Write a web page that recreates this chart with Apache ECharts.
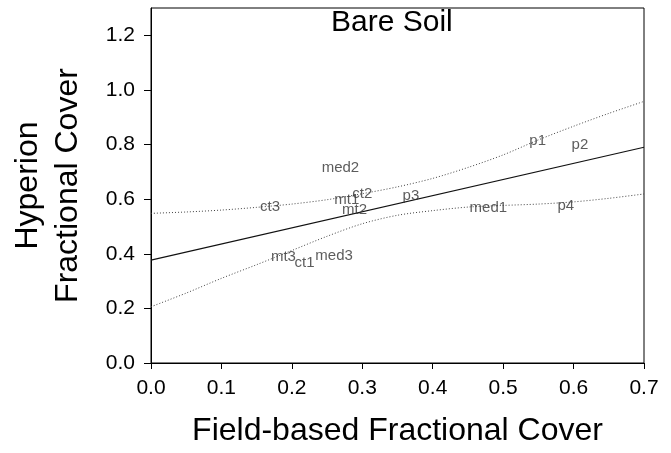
<!DOCTYPE html>
<html>
<head>
<meta charset="utf-8">
<script src="https://cdn.jsdelivr.net/npm/echarts@6/dist/echarts.min.js"></script>
<style>
  html, body { margin: 0; padding: 0; background: #fff; }
  #chart { width: 671px; height: 453px; }
</style>
</head>
<body>
<div id="chart"></div>
<script>
// sample points (field-based vs Hyperion cover), labelled by plot name
const pointNames = ["ct3", "med2", "mt1", "ct2", "mt2", "p3", "p1", "p2", "med1", "p4", "mt3", "ct1", "med3"];
const pointX = [0.169, 0.269, 0.278, 0.300, 0.289, 0.369, 0.549, 0.609, 0.479, 0.589, 0.188, 0.218, 0.260];
const pointY = [0.572, 0.713, 0.596, 0.621, 0.560, 0.612, 0.815, 0.797, 0.567, 0.576, 0.389, 0.368, 0.393];

// regression line end points
const fitX = [0, 0.7];
const fitY = [0.377, 0.790];

// confidence band
const bandX = [0, 0.05, 0.1, 0.15, 0.2, 0.25, 0.3, 0.35, 0.4, 0.45, 0.5, 0.55, 0.6, 0.65, 0.7];
const bandUpper = [0.548, 0.553, 0.560, 0.570, 0.582, 0.598, 0.620, 0.645, 0.676, 0.716, 0.762, 0.817, 0.867, 0.914, 0.958];
const bandLower = [0.206, 0.256, 0.310, 0.360, 0.412, 0.464, 0.510, 0.541, 0.558, 0.571, 0.577, 0.582, 0.590, 0.603, 0.619];

const font = "'Liberation Sans', Arial, sans-serif";

var myChart = echarts.init(document.getElementById("chart"));

var option = {
    backgroundColor: "#fff",
    animation: false,
    title: {
        text: "Bare Soil",
        left: 331,
        top: 8,
        padding: 0,
        textStyle: {
            fontFamily: font,
            fontSize: 30,
            fontWeight: "normal",
            color: "#000",
        },
    },
    grid: {
        left: 147,
        right: 27,
        top: 8,
        bottom: 90,
        show: true,
        borderColor: "#000",
        borderWidth: 1,
    },
    xAxis: {
        type: "value",
        min: 0,
        max: 0.7,
        interval: 0.1,
        name: "Field-based Fractional Cover",
        nameLocation: "middle",
        nameGap: 52,
        nameTextStyle: { fontFamily: font, fontSize: 32, color: "#000" },
        splitLine: { show: false },
        axisLine: { lineStyle: { color: "#000", width: 1 } },
        axisTick: { show: true, length: 6, lineStyle: { color: "#000" } },
        axisLabel: {
            margin: 15,
            fontFamily: font,
            fontSize: 21,
            color: "#000",
            formatter: (v) => v.toFixed(1),
        },
    },
    yAxis: {
        type: "value",
        min: 0,
        max: 1.3,
        interval: 0.2,
        name: "Hyperion\nFractional Cover",
        nameLocation: "middle",
        nameGap: 63,
        nameRotate: 90,
        nameTextStyle: { fontFamily: font, fontSize: 32, lineHeight: 40, color: "#000" },
        splitLine: { show: false },
        axisLine: { lineStyle: { color: "#000", width: 1 } },
        axisTick: { show: true, length: 7, lineStyle: { color: "#000" } },
        axisLabel: {
            margin: 16,
            fontFamily: font,
            fontSize: 21,
            color: "#000",
            showMaxLabel: false,
            formatter: (v) => v.toFixed(1),
        },
    },
    series: [
        {
            name: "upper",
            type: "line",
            data: bandX.map((x, i) => [x, bandUpper[i]]),
            smooth: 0.3,
            symbol: "none",
            lineStyle: { color: "#444", width: 1, type: [1, 2] },
            z: 2,
        },
        {
            name: "lower",
            type: "line",
            data: bandX.map((x, i) => [x, bandLower[i]]),
            smooth: 0.3,
            symbol: "none",
            lineStyle: { color: "#444", width: 1, type: [1, 2] },
            z: 2,
        },
        {
            name: "fit",
            type: "line",
            data: fitX.map((x, i) => [x, fitY[i]]),
            symbol: "none",
            lineStyle: { color: "#111", width: 1.2 },
            z: 3,
        },
        {
            name: "points",
            type: "scatter",
            data: pointX.map((x, i) => [x, pointY[i], pointNames[i]]),
            symbolSize: 1,
            itemStyle: { color: "rgba(0,0,0,0)" },
            label: {
                show: true,
                position: "inside",
                formatter: (p) => p.data[2],
                fontFamily: font,
                fontSize: 15,
                color: "#333",
            },
            z: 4,
        },
    ],
};
myChart.setOption(option);
</script>
</body>
</html>
